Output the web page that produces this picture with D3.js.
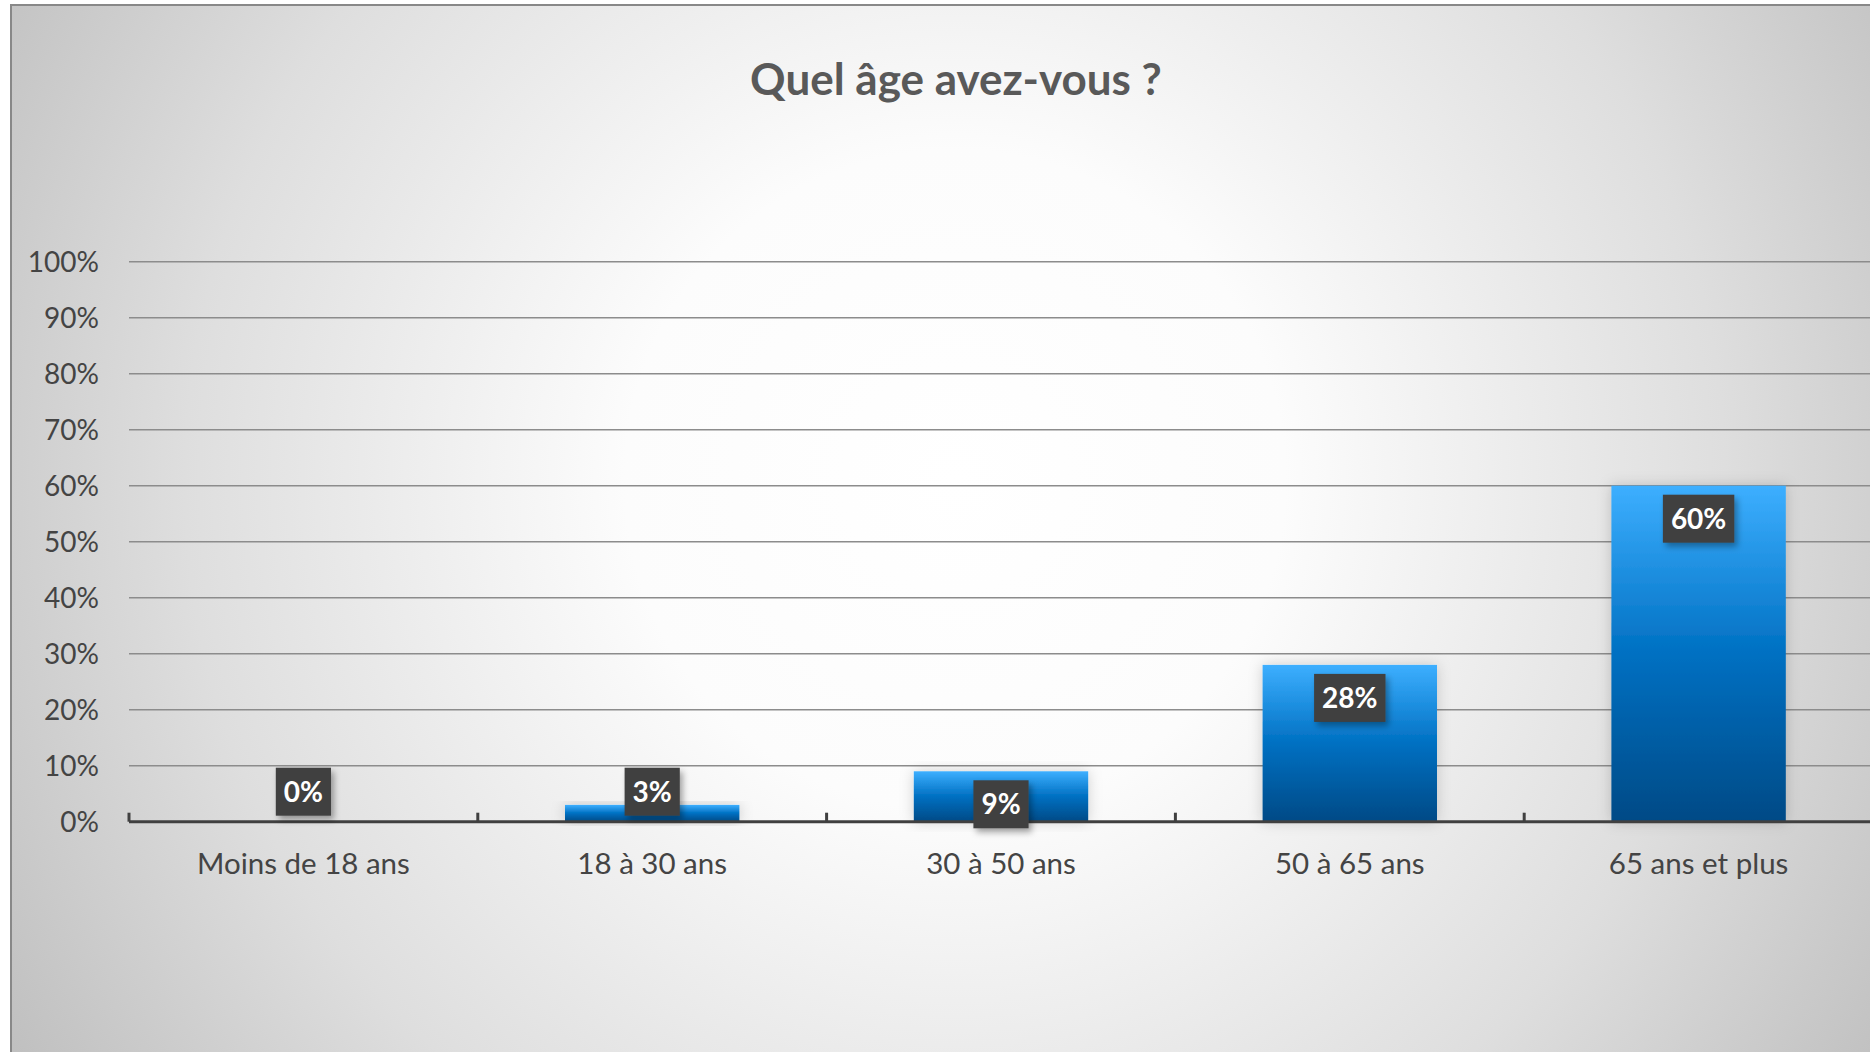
<!DOCTYPE html>
<html>
<head>
<meta charset="utf-8">
<script src="https://cdn.jsdelivr.net/npm/d3@7"></script>
<style>
  html, body { margin: 0; padding: 0; overflow: hidden; background: #fff; }
  svg { display: block; }
</style>
</head>
<body>
<svg id="chart" width="1870" height="1052"></svg>
<script>
const categories = ["Moins de 18 ans", "18 à 30 ans", "30 à 50 ans", "50 à 65 ans", "65 ans et plus"];
const values = [0, 0.03, 0.09, 0.28, 0.60];
const yTicks = [0, 0.1, 0.2, 0.3, 0.4, 0.5, 0.6, 0.7, 0.8, 0.9, 1.0];
const title = "Quel âge avez-vous ?";

const W = 1870, H = 1052;
const svg = d3.select("#chart");
const defs = svg.append("defs");

// background radial gradient
const bg = defs.append("radialGradient")
    .attr("id", "bg").attr("gradientUnits", "userSpaceOnUse")
    .attr("cx", 955).attr("cy", 480).attr("r", 1100);
[[0, "#ffffff"], [0.3, "#fcfcfc"], [0.7, "#dedede"], [1, "#c0c0c0"]]
    .forEach(([o, c]) => bg.append("stop").attr("offset", o).attr("stop-color", c));

// bar gradient
const barGrad = defs.append("linearGradient")
    .attr("id", "barGrad").attr("x1", 0).attr("y1", 0).attr("x2", 0).attr("y2", 1);
[[0, "#3dafff"], [0.5, "#0070c2"], [1, "#004a86"]]
    .forEach(([o, c]) => barGrad.append("stop").attr("offset", o).attr("stop-color", c));

const glow = defs.append("filter").attr("id", "glow")
    .attr("x", "-20%").attr("y", "-20%").attr("width", "140%").attr("height", "140%");
glow.append("feDropShadow").attr("dx", 0).attr("dy", 0).attr("stdDeviation", 7)
    .attr("flood-color", "#000").attr("flood-opacity", 0.18);

const shadow = defs.append("filter").attr("id", "shadow")
    .attr("x", "-30%").attr("y", "-30%").attr("width", "170%").attr("height", "170%");
shadow.append("feDropShadow").attr("dx", 3).attr("dy", 4).attr("stdDeviation", 3)
    .attr("flood-color", "#000").attr("flood-opacity", 0.35);

svg.append("rect").attr("width", W).attr("height", H).attr("fill", "#fff");
svg.append("rect")
    .attr("x", 11).attr("y", 5).attr("width", W + 50).attr("height", H + 50)
    .attr("fill", "url(#bg)").attr("stroke", "#888").attr("stroke-width", 2);

// title
svg.append("text")
    .attr("x", 956).attr("y", 95)
    .attr("text-anchor", "middle")
    .attr("font-family", "Lato, sans-serif").attr("font-weight", "bold")
    .attr("font-size", 44).attr("fill", "#595959")
    .text(title);

// scales
const left = 129, plotW = 1744;
const x = d3.scaleBand().domain(categories)
    .range([left, left + plotW]).paddingInner(0.5).paddingOuter(0.25);
const y = d3.scaleLinear().domain([0, 1]).range([821.7, 261.7]);

// gridlines
svg.append("g").selectAll("line")
    .data(yTicks.filter(d => d > 0))
    .join("line")
    .attr("x1", left).attr("x2", W)
    .attr("y1", d => y(d)).attr("y2", d => y(d))
    .attr("stroke", "#8c8c8c").attr("stroke-width", 1.6);

// y labels
svg.append("g").selectAll("text")
    .data(yTicks)
    .join("text")
    .attr("x", 99).attr("y", d => y(d) + 10)
    .attr("text-anchor", "end")
    .attr("font-family", "Lato, sans-serif").attr("font-size", 28)
    .attr("fill", "#444")
    .text(d => d3.format(".0%")(d));

// bars
svg.append("g").selectAll("rect")
    .data(values)
    .join("rect")
    .attr("x", (d, i) => x(categories[i]))
    .attr("width", x.bandwidth())
    .attr("y", d => y(d))
    .attr("height", d => y(0) - y(d))
    .attr("fill", "url(#barGrad)")
    .attr("filter", "url(#glow)");

// x axis line + ticks
const step = x.step();
const axis = svg.append("g");
axis.append("line")
    .attr("x1", left).attr("x2", W)
    .attr("y1", y(0)).attr("y2", y(0))
    .attr("stroke", "#404040").attr("stroke-width", 3);
axis.selectAll(".tick")
    .data(d3.range(categories.length + 1))
    .join("line")
    .attr("class", "tick")
    .attr("x1", i => left + i * step).attr("x2", i => left + i * step)
    .attr("y1", y(0)).attr("y2", y(0) - 9)
    .attr("stroke", "#404040").attr("stroke-width", 3);

// category labels
svg.append("g").selectAll("text")
    .data(categories)
    .join("text")
    .attr("x", d => x(d) + x.bandwidth() / 2)
    .attr("y", 874)
    .attr("text-anchor", "middle")
    .attr("font-family", "Lato, sans-serif").attr("font-size", 29.5)
    .attr("fill", "#444")
    .text(d => d);

// data labels
const boxH = 48;
const labels = svg.append("g").selectAll("g")
    .data(values)
    .join("g")
    .attr("transform", (d, i) => {
        const cx = x(categories[i]) + x.bandwidth() / 2;
        const top = d < 0.05 ? y(0) - 6 - boxH : y(d) + 9;
        return `translate(${cx},${top})`;
    });

labels.each(function(d) {
    const g = d3.select(this);
    const txt = d3.format(".0%")(d);
    const t = g.append("text")
        .attr("x", 0).attr("y", 34)
        .attr("text-anchor", "middle")
        .attr("font-family", "Lato, sans-serif").attr("font-weight", "bold")
        .attr("font-size", 28).attr("fill", "#fff")
        .text(txt);
    const w = t.node().getComputedTextLength() + 16;
    g.insert("rect", "text")
        .attr("x", -w / 2).attr("y", 0)
        .attr("width", w).attr("height", boxH)
        .attr("fill", "#404040")
        .attr("filter", "url(#shadow)");
});
</script>
</body>
</html>
